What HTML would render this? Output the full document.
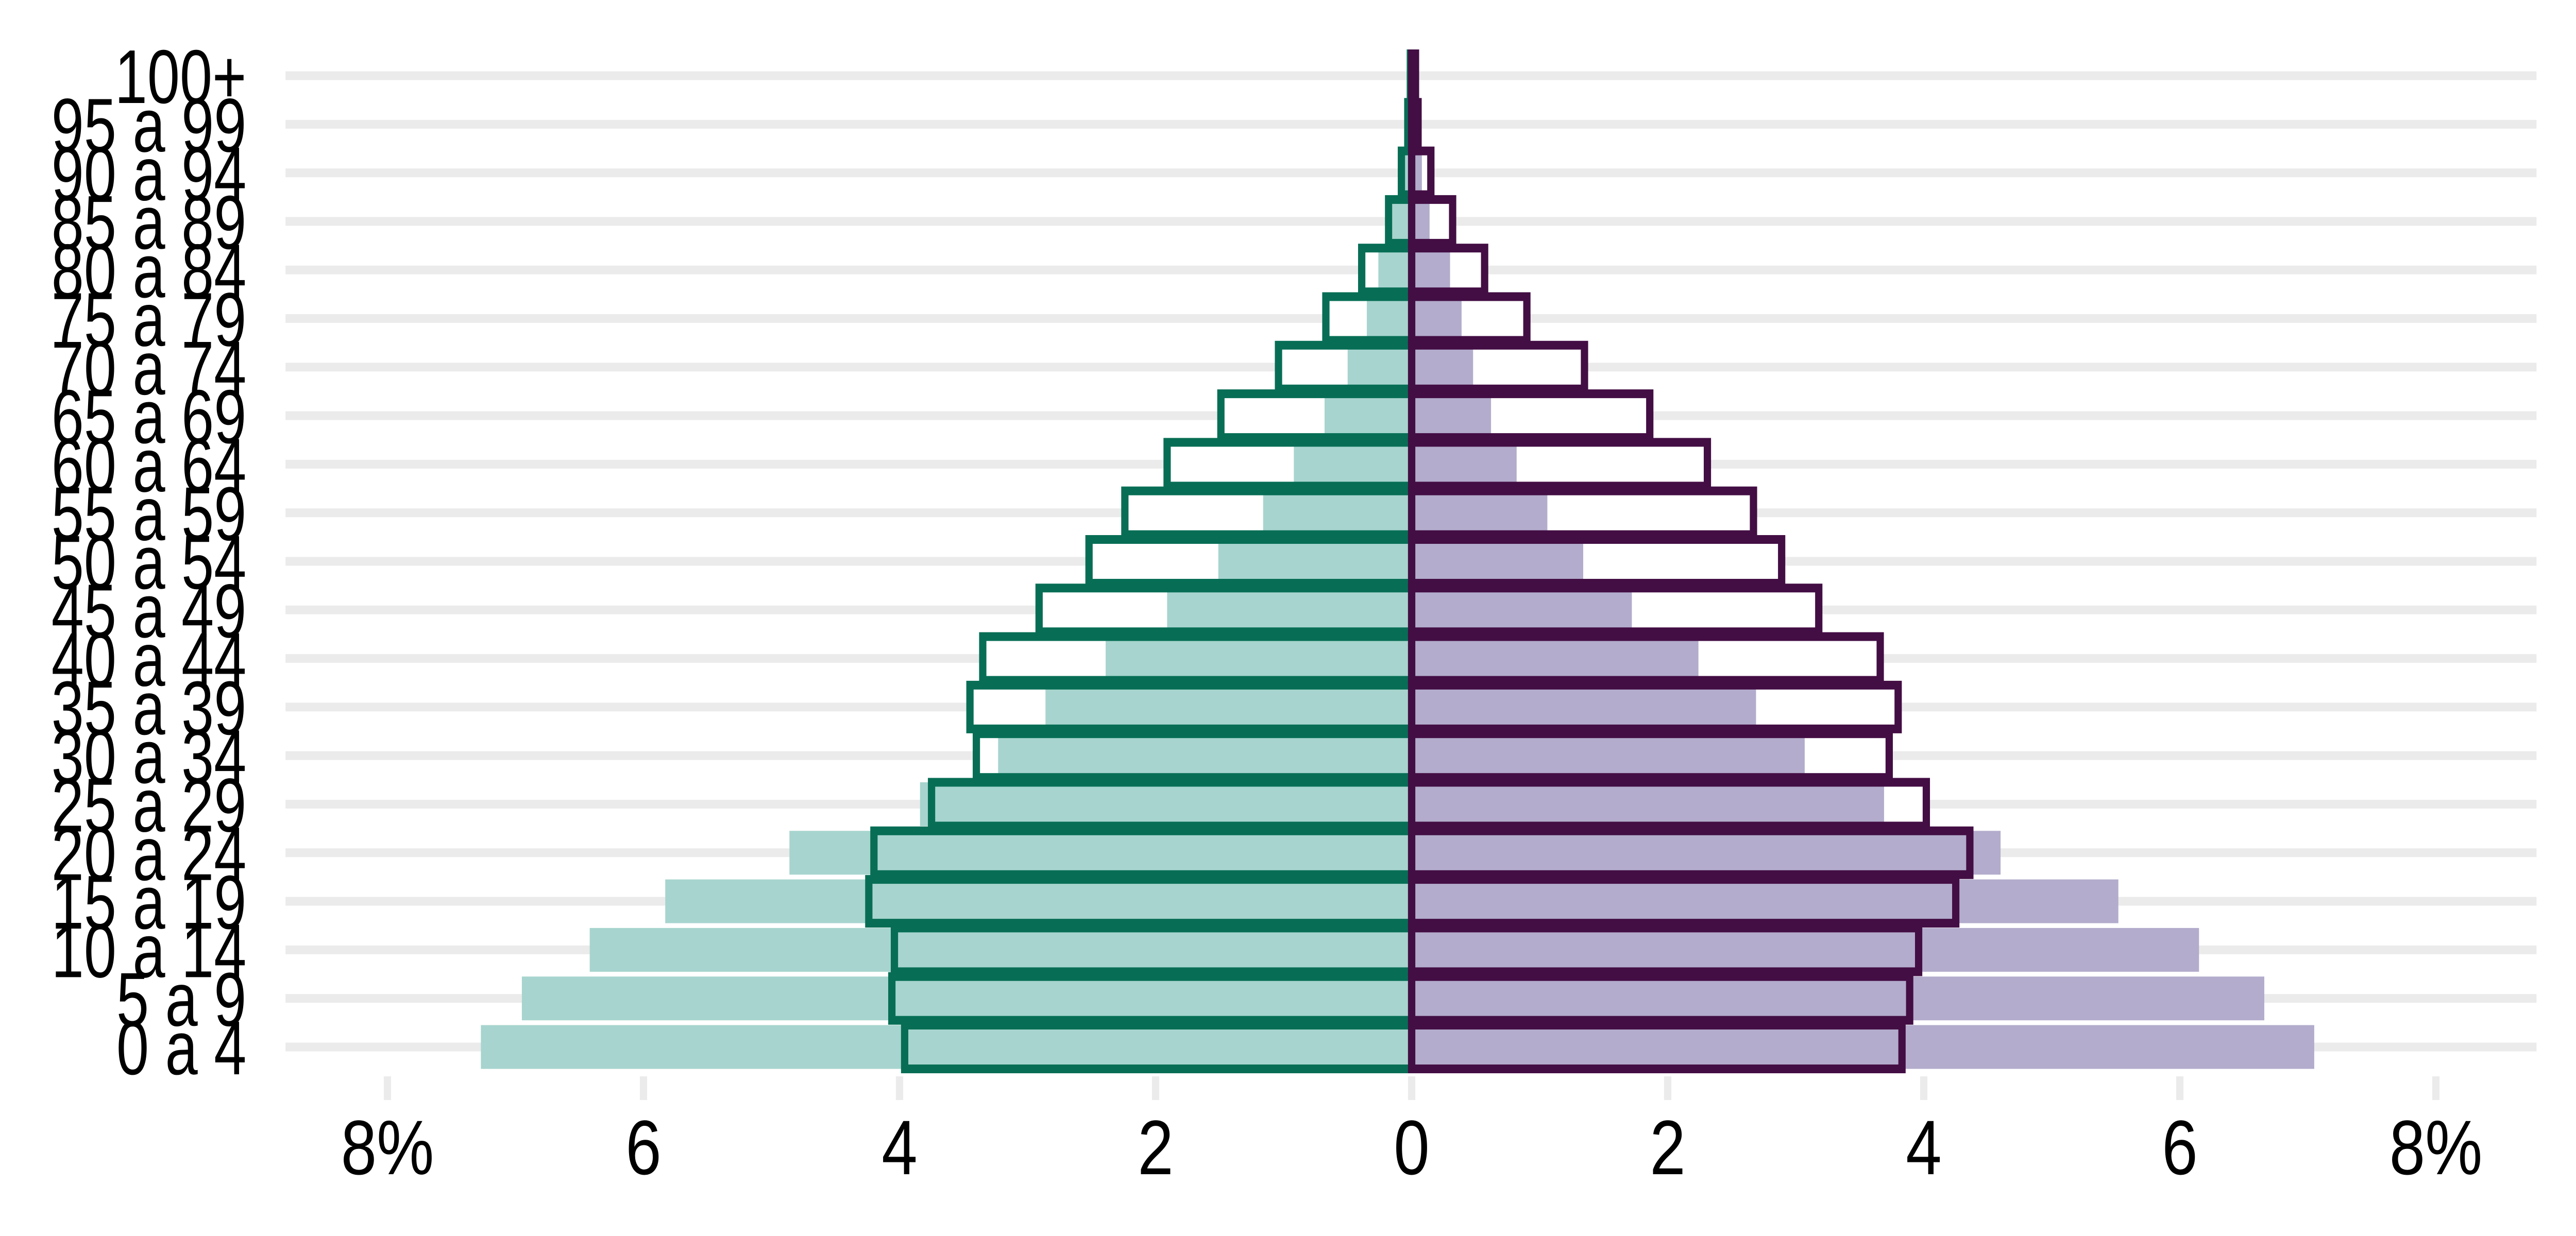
<!DOCTYPE html>
<html><head><meta charset="utf-8"><style>html,body{margin:0;padding:0;background:#fff;width:100%;height:100%;overflow:hidden;}svg{display:block;width:100vw;height:100vh;}</style></head>
<body>
<svg id="chart" viewBox="0 0 6000 2400" preserveAspectRatio="none" xmlns="http://www.w3.org/2000/svg">
<g id="grid"></g>
<g id="bars"></g>
<g id="yaxis"></g>
<g id="xaxis"></g>
</svg>
<script>
const ageGroups = ["0 a 4","5 a 9","10 a 14","15 a 19","20 a 24","25 a 29","30 a 34","35 a 39","40 a 44","45 a 49","50 a 54","55 a 59","60 a 64","65 a 69","70 a 74","75 a 79","80 a 84","85 a 89","90 a 94","95 a 99","100+"];
const leftFill = [7.27,6.95,6.42,5.83,4.86,3.84,3.23,2.86,2.39,1.91,1.51,1.16,0.92,0.68,0.50,0.35,0.26,0.15,0.06,0.02,0.005];
const leftOutline = [3.96,4.06,4.04,4.24,4.20,3.75,3.40,3.45,3.35,2.91,2.52,2.24,1.91,1.49,1.04,0.67,0.39,0.18,0.08,0.03,0.01];
const rightFill = [7.05,6.66,6.15,5.52,4.60,3.69,3.07,2.69,2.24,1.72,1.34,1.06,0.82,0.62,0.48,0.39,0.30,0.14,0.08,0.03,0.01];
const rightOutline = [3.83,3.89,3.96,4.25,4.36,4.02,3.73,3.80,3.66,3.18,2.89,2.67,2.31,1.86,1.35,0.90,0.57,0.32,0.15,0.05,0.03];
const xTickValues = [-8,-6,-4,-2,0,2,4,6,8];
const xTickLabels = ["8%","6","4","2","0","2","4","6","8%"];

const NS = "http://www.w3.org/2000/svg";
const X0 = 3288, PX = 298.2;
const xs = v => X0 + v * PX;
const Y0 = 2033, STEP = 94.3;
const ys = i => Y0 - i * STEP;
const BH = 85, SW = 17;
function mk(tag, attrs, parent){const e=document.createElementNS(NS,tag);for(const k in attrs)e.setAttribute(k,attrs[k]);parent.appendChild(e);return e;}
const grid=document.getElementById('grid'), bars=document.getElementById('bars'), yax=document.getElementById('yaxis'), xax=document.getElementById('xaxis');

ageGroups.forEach((g,i)=>{
  const y=ys(i);
  const gl=mk('rect',{x:665,y:y-8.5,width:5243,height:17,fill:'#ebebeb'},grid);
  
  
  const t=mk('text',{x:574,y:y+53,'text-anchor':'end','font-family':'"Liberation Sans", Arial, sans-serif','font-size':148,fill:'#000',transform:'translate(574 0) scale(0.92 1) translate(-574 0)'},yax);
  t.textContent=g;
  
  
});
ageGroups.forEach((g,i)=>{
  const y=ys(i)-BH/2;
  const a=mk('rect',{x:xs(-leftOutline[i]),y:y,width:xs(0)-xs(-leftOutline[i]),height:BH,fill:'#fff'},bars);
  
  
  const b=mk('rect',{x:xs(0),y:y,width:xs(rightOutline[i])-xs(0),height:BH,fill:'#fff'},bars);
  
  
});
ageGroups.forEach((g,i)=>{
  const y=ys(i)-BH/2;
  const a=mk('rect',{x:xs(-leftFill[i]),y:y,width:xs(0)-xs(-leftFill[i]),height:BH,fill:'#a7d4ce'},bars);
  
  
  const b=mk('rect',{x:xs(0),y:y,width:xs(rightFill[i])-xs(0),height:BH,fill:'#b3accc'},bars);
  
  
});
ageGroups.forEach((g,i)=>{
  const y=ys(i)-BH/2;
  const a=mk('rect',{x:xs(-leftOutline[i]),y:y,width:xs(0)-xs(-leftOutline[i]),height:BH,fill:'none',stroke:'#076e55','stroke-width':SW},bars);
  
  
});
ageGroups.forEach((g,i)=>{
  const y=ys(i)-BH/2;
  const b=mk('rect',{x:xs(0),y:y,width:xs(rightOutline[i])-xs(0),height:BH,fill:'none',stroke:'#430e44','stroke-width':SW},bars);
  
  
});
xTickValues.forEach((v,k)=>{
  const x=xs(v);
  const tk=mk('rect',{x:x-8.5,y:2090,width:17,height:46,fill:'#ebebeb'},xax);
  
  
  const t=mk('text',{x:x,y:2280,'text-anchor':'middle','font-family':'"Liberation Sans", Arial, sans-serif','font-size':150,fill:'#000'},xax);
  t.textContent=xTickLabels[k];
  
  
});
</script>
</body></html>
